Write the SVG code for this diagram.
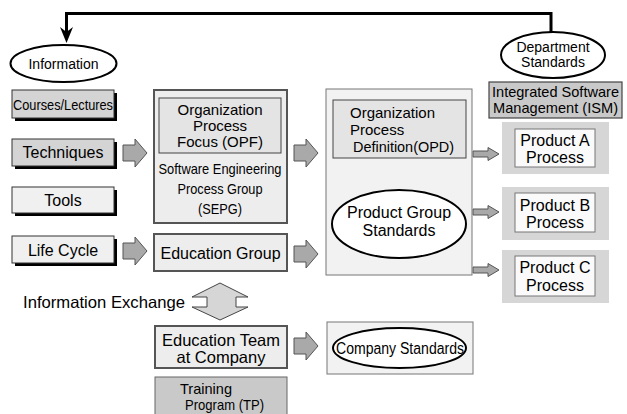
<svg xmlns="http://www.w3.org/2000/svg" width="627" height="414" viewBox="0 0 627 414">
  <defs>
    <style>
      text { font-family: "Liberation Sans", Arial, sans-serif; fill: #000; }
      .f14 { font-size: 14px; }
      .f15 { font-size: 15px; }
      .f16 { font-size: 16px; }
      .mid { text-anchor: middle; }
      .oval { fill: #fff; stroke: #000; stroke-width: 2; }
      .shadow { fill: #000; }
      .srcDark { fill: #d4d4d4; stroke: #333; stroke-width: 1; }
      .srcLight { fill: #f0f0f0; stroke: #333; stroke-width: 1; }
      .group { fill: #ededed; stroke: #555; stroke-width: 2; }
      .inner { fill: #e4e4e4; stroke: #444; stroke-width: 1; }
      .panel { fill: #f2f2f2; stroke: #777; stroke-width: 1; }
      .grey { fill: #c9c9c9; stroke: #444; stroke-width: 1.2; }
      .prodBg { fill: #d6d6d6; }
      .prod { fill: #fafafa; stroke: #777; stroke-width: 1; }
      .block { fill: #a9a9a9; stroke: #555; stroke-width: 1; }
      .feedback { fill: none; stroke: #000; stroke-width: 3; }
    </style>
    <path id="bigArrow" class="block" d="M0,-8 H12 V-14 L24,0 L12,14 V8 H0 Z"/>
    <path id="smallArrow" class="block" d="M0,-3 H15 V-6.5 L26,0 L15,6.5 V3 H0 Z"/>
  </defs>

  <rect width="627" height="414" fill="#fff"/>

  <!-- connectors -->
  <g id="connectors">
    <path class="feedback" d="M551,32 V13.5 H66.5 V32"/>
    <path d="M60,27 L66.5,43 L73,27 L66.5,32 Z" fill="#000"/>
    <use href="#bigArrow" transform="translate(123,153)"/>
    <use href="#bigArrow" transform="translate(123,251)"/>
    <use href="#bigArrow" transform="translate(294,153)"/>
    <use href="#bigArrow" transform="translate(294,254)"/>
    <use href="#bigArrow" transform="translate(294,346)"/>
    <use href="#smallArrow" transform="translate(473,154)"/>
    <use href="#smallArrow" transform="translate(473,212)"/>
    <use href="#smallArrow" transform="translate(473,270)"/>
    <polygon points="220,283 248,297 236,297 236,307 248,307 220,320 192,307 207,307 207,297 192,297" fill="#d6d6d6" stroke="#444" stroke-width="1"/>
  </g>

  <!-- information source -->
  <g id="information">
    <ellipse class="oval" cx="63.5" cy="63.5" rx="53" ry="18.5"/>
    <text class="f14 mid" x="63.5" y="68.5">Information</text>
  </g>

  <g id="courses">
    <rect class="shadow" x="15" y="93" width="102" height="28"/>
    <rect class="srcDark" x="12" y="90" width="102" height="28"/>
    <text class="f15 mid" x="63" y="109.5" textLength="100" lengthAdjust="spacingAndGlyphs">Courses/Lectures</text>
  </g>

  <g id="techniques">
    <rect class="shadow" x="15" y="142" width="102" height="27"/>
    <rect class="srcDark" x="12" y="139" width="102" height="27"/>
    <text class="f16 mid" x="63" y="158">Techniques</text>
  </g>

  <g id="tools">
    <rect class="shadow" x="15" y="190" width="102" height="26"/>
    <rect class="srcLight" x="12" y="187" width="102" height="26"/>
    <text class="f16 mid" x="63" y="206">Tools</text>
  </g>

  <g id="lifecycle">
    <rect class="shadow" x="15" y="239" width="102" height="27"/>
    <rect class="srcLight" x="12" y="236" width="102" height="27"/>
    <text class="f16 mid" x="63" y="255.5">Life Cycle</text>
  </g>

  <!-- SEPG with OPF -->
  <g id="sepg">
    <rect class="group" x="154" y="90" width="133" height="133"/>
    <text class="f15 mid" x="220" y="174" textLength="123" lengthAdjust="spacingAndGlyphs">Software Engineering</text>
    <text class="f15 mid" x="220" y="194" textLength="85" lengthAdjust="spacingAndGlyphs">Process Group</text>
    <text class="f15 mid" x="220" y="214" textLength="44" lengthAdjust="spacingAndGlyphs">(SEPG)</text>
  </g>
  <g id="opf">
    <rect class="inner" x="159" y="98" width="122" height="55"/>
    <text class="f15 mid" x="220" y="115">Organization</text>
    <text class="f15 mid" x="220" y="131">Process</text>
    <text class="f15 mid" x="220" y="147">Focus (OPF)</text>
  </g>

  <g id="educationGroup">
    <rect class="group" x="154" y="234" width="133" height="37"/>
    <text class="f16 mid" x="220.5" y="259">Education Group</text>
  </g>

  <!-- OPD panel -->
  <g id="opdPanel">
    <rect class="panel" x="326" y="89" width="146" height="186"/>
  </g>
  <g id="opd">
    <rect class="inner" x="333" y="100" width="133" height="58"/>
    <text class="f15" x="350" y="118">Organization</text>
    <text class="f15" x="350" y="135">Process</text>
    <text class="f15" x="353" y="152" textLength="101" lengthAdjust="spacingAndGlyphs">Definition(OPD)</text>
  </g>
  <g id="productGroupStandards">
    <ellipse class="oval" cx="399" cy="224" rx="67" ry="34"/>
    <text class="f16 mid" x="399" y="218">Product Group</text>
    <text class="f16 mid" x="399" y="236">Standards</text>
  </g>

  <!-- department level -->
  <g id="departmentStandards">
    <ellipse class="oval" cx="553" cy="55" rx="52" ry="23"/>
    <text class="f14 mid" x="553" y="52">Department</text>
    <text class="f14 mid" x="553" y="67">Standards</text>
  </g>
  <g id="ism">
    <rect class="grey" x="489" y="82" width="133" height="36"/>
    <text class="f15 mid" x="555.5" y="97" textLength="127" lengthAdjust="spacingAndGlyphs">Integrated Software</text>
    <text class="f15 mid" x="555.5" y="113" textLength="125" lengthAdjust="spacingAndGlyphs">Management (ISM)</text>
  </g>

  <g id="productA">
    <rect class="prodBg" x="502" y="122" width="107" height="52"/>
    <rect class="prod" x="515" y="129" width="80" height="38"/>
    <text class="f16 mid" x="555" y="145.5">Product A</text>
    <text class="f16 mid" x="555" y="162.5">Process</text>
  </g>
  <g id="productB">
    <rect class="prodBg" x="502" y="187" width="107" height="53"/>
    <rect class="prod" x="515" y="193" width="80" height="39"/>
    <text class="f16 mid" x="555" y="210.5">Product B</text>
    <text class="f16 mid" x="555" y="227.5">Process</text>
  </g>
  <g id="productC">
    <rect class="prodBg" x="502" y="250" width="107" height="53"/>
    <rect class="prod" x="515" y="256" width="80" height="40"/>
    <text class="f16 mid" x="555" y="272.5">Product C</text>
    <text class="f16 mid" x="555" y="290.5">Process</text>
  </g>

  <!-- company level -->
  <g id="informationExchange">
    <text x="23" y="307.5" style="font-size:16.5px" textLength="162" lengthAdjust="spacingAndGlyphs">Information Exchange</text>
  </g>
  <g id="educationTeam">
    <rect class="group" x="155" y="326" width="132" height="42"/>
    <text class="mid" style="font-size:16.5px" x="221" y="346">Education Team</text>
    <text class="mid" style="font-size:16.5px" x="221" y="363">at Company</text>
  </g>
  <g id="trainingProgram">
    <rect x="155" y="377" width="132" height="40" fill="#c9c9c9" stroke="#666" stroke-width="1"/>
    <text class="f15" x="180" y="394" textLength="52" lengthAdjust="spacingAndGlyphs">Training</text>
    <text class="f15" x="185" y="410" textLength="79" lengthAdjust="spacingAndGlyphs">Program (TP)</text>
  </g>
  <g id="companyStandards">
    <rect class="panel" x="327" y="322" width="146" height="52" stroke="#555"/>
    <ellipse class="oval" cx="399.5" cy="348" rx="66.5" ry="20"/>
    <text class="f16 mid" x="400" y="354" textLength="128" lengthAdjust="spacingAndGlyphs">Company Standards</text>
  </g>
</svg>
